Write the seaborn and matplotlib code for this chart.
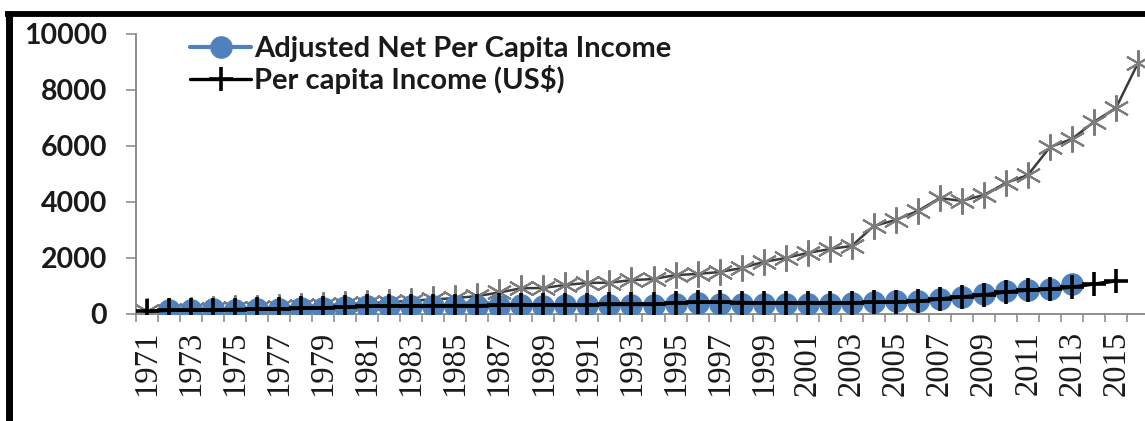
import matplotlib
matplotlib.use("Agg")
import matplotlib.pyplot as plt
from matplotlib.lines import Line2D
from matplotlib.ticker import FixedLocator, NullFormatter
import numpy as np
import pandas as pd
import seaborn as sns

# ---- data -------------------------------------------------------------
years = list(range(1971, 2017))

# Adjusted net per capita income (1972-2013)
adjusted_years = list(range(1972, 2014))
adjusted_income = [130, 150, 170, 160, 170, 180, 200, 220, 250, 270,
                   280, 270, 280, 290, 290, 300, 310, 300, 310, 320,
                   330, 330, 330, 360, 380, 370, 360, 360, 360, 350,
                   360, 390, 420, 450, 480, 530, 620, 720, 830, 850,
                   880, 1080]

# Per capita income in US$ (1971-2015)
percap_years = list(range(1971, 2016))
percap_income = [100, 130, 130, 150, 160, 170, 180, 200, 220, 250,
                 270, 290, 290, 300, 300, 300, 310, 330, 330, 330,
                 330, 340, 340, 340, 400, 420, 420, 410, 400, 390,
                 390, 390, 400, 420, 430, 450, 540, 610, 680, 790,
                 850, 890, 960, 1070, 1180]

# Third series (1971-2016)
star_years = list(range(1971, 2017))
star_values = [100, 120, 150, 180, 200, 220, 250, 280, 310, 350,
               390, 420, 480, 520, 570, 640, 770, 920, 930, 1040,
               1110, 1120, 1210, 1250, 1390, 1430, 1500, 1640, 1860, 2000,
               2180, 2320, 2430, 3140, 3360, 3680, 4140, 4040, 4250, 4680,
               4960, 5960, 6250, 6860, 7360, 8960]

label_years = [str(y) for y in range(1971, 2016, 2)]
y_ticks = [0, 2000, 4000, 6000, 8000, 10000]

series_names = ["Adjusted Net Per Capita Income", "Per capita Income (US$)"]

# ---- style ------------------------------------------------------------
sns.set_theme(style="white")
plt.rcParams["font.family"] = ["Lato", "DejaVu Sans"]

AXIS_GREY = "#868686"
BLUE = "#4F81BD"

fig = plt.figure(figsize=(11.45, 4.21), dpi=100)
fig.patch.set_facecolor("white")
ax = fig.add_axes([136 / 1145, 1 - 314 / 421, 1013 / 1145, 280 / 421])
ax.set_facecolor("white")

df_star = pd.DataFrame({"year": star_years, "value": star_values})
df_adj = pd.DataFrame({"year": adjusted_years, "value": adjusted_income})
df_pc = pd.DataFrame({"year": percap_years, "value": percap_income})

sns.lineplot(data=df_star, x="year", y="value", ax=ax, color="#3c3c3c",
             linewidth=1.8, marker=(6, 2, 0), markersize=19,
             markeredgewidth=1.5, markeredgecolor="#7c7c7c",
             label="_nolegend_", zorder=2)
sns.lineplot(data=df_adj, x="year", y="value", ax=ax, color=BLUE,
             linewidth=3, marker="o", markersize=15.5,
             markerfacecolor=BLUE, markeredgecolor=BLUE,
             label=series_names[0], zorder=3)
sns.lineplot(data=df_pc, x="year", y="value", ax=ax, color="black",
             linewidth=2.4, marker="+", markersize=17,
             markeredgewidth=2.6, markeredgecolor="black",
             label=series_names[1], zorder=4)

# ---- axes -------------------------------------------------------------
ax.set_xlim(1970.5, 2016.5)
ax.set_ylim(0, 10000)
ax.set_xlabel("")
ax.set_ylabel("")

ax.xaxis.set_major_locator(FixedLocator([int(y) for y in label_years]))
ax.set_xticklabels(label_years, rotation=90, fontsize=23.5,
                   family=["Liberation Serif"], color="#1a1a1a")
ax.xaxis.set_minor_locator(FixedLocator(np.arange(1970.5, 2017, 1.0)))
ax.xaxis.set_minor_formatter(NullFormatter())
ax.tick_params(axis="x", which="major", length=0, pad=12)
ax.tick_params(axis="x", which="minor", length=6, width=1.1,
               color=AXIS_GREY, direction="out", bottom=True)

ax.set_yticks(y_ticks)
ax.set_yticklabels([str(v) for v in y_ticks], fontsize=20.5,
                   fontweight="bold", color="#1a1a1a")
ax.tick_params(axis="y", which="major", length=7, width=1.1,
               color=AXIS_GREY, direction="out", left=True, pad=14)

for side in ("top", "right"):
    ax.spines[side].set_visible(False)
for side in ("left", "bottom"):
    ax.spines[side].set_color(AXIS_GREY)
    ax.spines[side].set_linewidth(1.3)
ax.grid(False)

handles = [h for h in ax.get_lines() if h.get_label() in series_names]
ax.legend(handles=handles, labels=series_names, loc="upper left",
          bbox_to_anchor=(0.042, 1.035), frameon=False, fontsize=21,
          handlelength=2.1, handletextpad=0.1, labelspacing=0.1,
          borderaxespad=0.0)
for t in ax.get_legend().get_texts():
    t.set_fontweight("bold")
    t.set_color("#1a1a1a")

# ---- outer frame (top and left edges) ----------------------------------
fig.add_artist(Line2D([5 / 1145, 1.0], [1 - 13.5 / 421] * 2,
                      transform=fig.transFigure, color="black",
                      linewidth=4.2, solid_capstyle="butt"))
fig.add_artist(Line2D([8.5 / 1145] * 2, [0.0, 1 - 11 / 421],
                      transform=fig.transFigure, color="black",
                      linewidth=5.0, solid_capstyle="butt"))

fig.savefig("out.png", dpi=100, facecolor="white")
